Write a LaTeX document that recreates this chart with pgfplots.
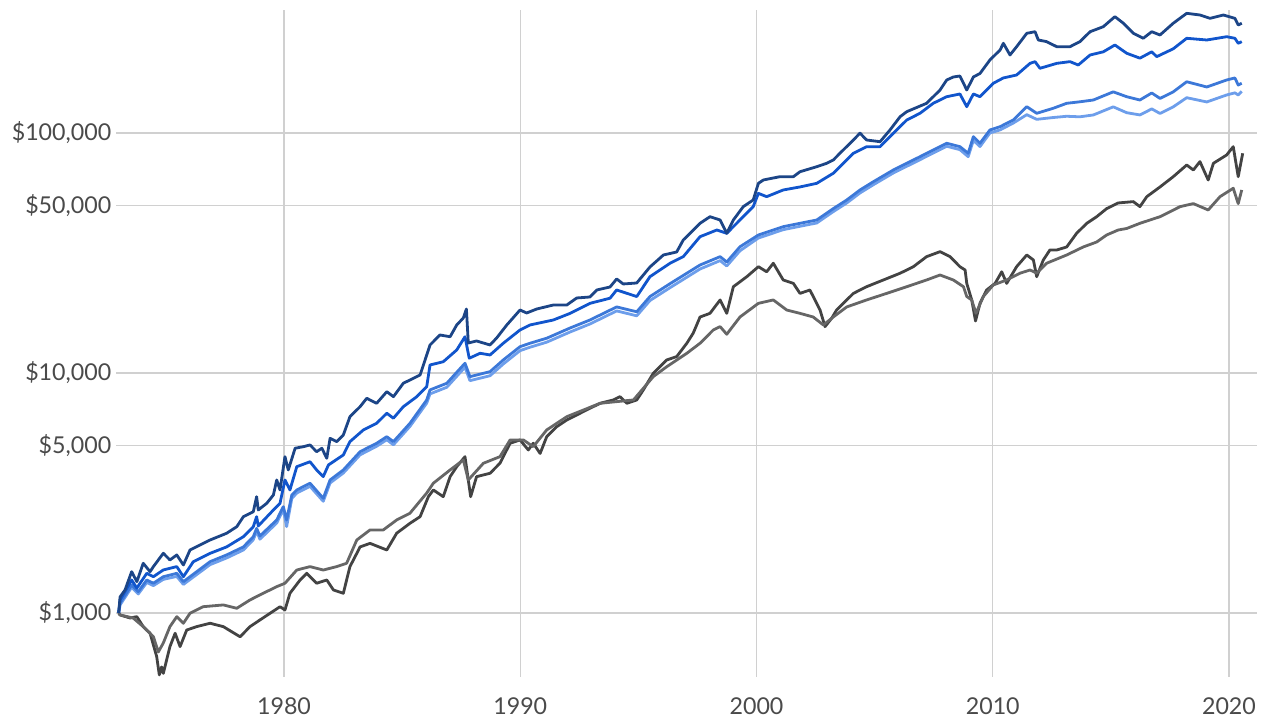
\documentclass[border=0pt]{standalone}
\usepackage{fontspec}
\setmainfont{Lato}
\usepackage{pgfplots}
\pgfplotsset{compat=1.18}
\definecolor{cA}{HTML}{1C4587}
\definecolor{cB}{HTML}{1155CC}
\definecolor{cC}{HTML}{3C78D8}
\definecolor{cD}{HTML}{6D9EEB}
\definecolor{cE}{HTML}{434343}
\definecolor{cF}{HTML}{666666}
\definecolor{gridc}{HTML}{D0D0D0}
\definecolor{labc}{HTML}{4A4A4A}
\begin{document}
\begin{tikzpicture}[x=1pt,y=1pt]
\path[use as bounding box] (0,0) rectangle (1270,721);
\begin{axis}[
  at={(116.3pt,44pt)}, anchor=south west,
  scale only axis, width=1141pt, height=667pt,
  xmin=1972.9, xmax=2021.2,
  ymode=log, ymin=541, ymax=325500,
  axis line style={draw=none},
  major tick length=0pt,
  xtick={1980,1990,2000,2010,2020},
  xticklabels={1980,1990,2000,2010,2020},
  ytick={1000,5000,10000,50000,100000},
  yticklabels={{\$1,000},{\$5,000},{\$10,000},{\$50,000},{\$100,000}},
  grid=major, major grid style={gridc, line width=1.3pt},
  tick label style={font=\fontsize{23.2}{27}\selectfont, text=labc},
  xticklabel style={yshift=-17pt},
  yticklabel style={xshift=-1.5pt},
  every axis plot/.append style={line width=2.8pt, line join=round, no markers},
]
% E dark gray
\addplot[cE] coordinates {
(1973.00,1000)(1973.06,981)(1973.48,953)(1973.77,965)(1974.04,877)(1974.33,823)(1974.61,658)(1974.72,552)(1974.82,596)(1974.89,560)(1975.17,724)(1975.39,823)(1975.60,724)(1975.88,849)(1976.30,877)(1976.87,906)(1977.43,877)(1978.14,796)(1978.56,877)(1978.98,935)(1979.41,997)(1979.83,1062)(1980.04,1029)(1980.25,1208)(1980.68,1372)(1980.96,1463)(1981.38,1330)(1981.81,1372)(1982.09,1247)(1982.51,1208)(1982.79,1560)(1983.22,1885)(1983.64,1950)(1984.35,1830)(1984.77,2150)(1985.33,2363)(1985.76,2519)(1986.11,3052)(1986.32,3255)(1986.74,3052)(1987.03,3698)(1987.31,4069)(1987.66,4480)(1987.90,3052)(1988.15,3698)(1988.72,3820)(1989.14,4206)(1989.57,5095)(1989.99,5260)(1990.34,4778)(1990.55,5095)(1990.84,4620)(1991.12,5428)(1991.54,5968)(1991.97,6370)(1992.25,6576)(1992.81,7015)(1993.38,7477)(1993.94,7720)(1994.22,7966)(1994.51,7477)(1994.93,7720)(1995.21,8500)(1995.63,9970)(1996.20,11329)(1996.62,11700)(1997.05,13300)(1997.32,14650)(1997.61,17110)(1998.03,17720)(1998.46,20150)(1998.74,17720)(1999.02,22880)(1999.59,25190)(2000.08,27730)(2000.43,26400)(2000.71,28660)(2001.13,24410)(2001.56,23620)(2001.84,21460)(2002.26,22170)(2002.69,18300)(2002.90,15600)(2003.18,16900)(2003.39,18300)(2004.10,21460)(2004.66,22880)(2005.37,24410)(2006.08,26040)(2006.64,27730)(2007.20,30530)(2007.77,32030)(2008.19,30530)(2008.61,27730)(2008.83,26860)(2008.90,23620)(2009.11,20150)(2009.27,16470)(2009.46,19510)(2009.74,22170)(2010.10,23620)(2010.38,26400)(2010.59,23620)(2011.01,27730)(2011.44,31020)(2011.72,29570)(2011.86,25190)(2012.14,29570)(2012.42,32550)(2012.71,32550)(2013.13,33500)(2013.55,38200)(2013.98,42040)(2014.40,44790)(2014.82,48400)(2015.31,51100)(2015.95,51760)(2016.23,49330)(2016.52,54280)(2017.08,59590)(2017.64,65750)(2018.21,73560)(2018.49,70120)(2018.77,75980)(2019.12,63700)(2019.34,74770)(2019.90,80970)(2020.18,87700)(2020.39,65750)(2020.58,82300)
};
% F medium gray
\addplot[cF] coordinates {
(1973.00,1000)(1973.06,981)(1973.61,953)(1974.04,877)(1974.47,796)(1974.68,688)(1974.89,750)(1975.17,877)(1975.46,965)(1975.74,906)(1976.02,997)(1976.58,1062)(1977.43,1080)(1978.00,1046)(1978.56,1133)(1979.12,1208)(1979.69,1287)(1980.04,1330)(1980.54,1510)(1981.10,1560)(1981.66,1510)(1982.23,1560)(1982.65,1611)(1983.08,2014)(1983.64,2218)(1984.20,2218)(1984.77,2441)(1985.33,2604)(1986.04,3160)(1986.32,3473)(1987.03,3944)(1987.59,4340)(1987.80,3583)(1988.44,4206)(1989.14,4480)(1989.57,5260)(1990.13,5260)(1990.55,4931)(1991.12,5790)(1991.97,6576)(1993.38,7477)(1994.79,7720)(1995.63,9655)(1996.20,10620)(1997.05,12080)(1997.61,13300)(1998.17,15107)(1998.46,15600)(1998.74,14500)(1999.30,17110)(2000.08,19510)(2000.71,20150)(2001.28,18300)(2001.84,17720)(2002.40,17110)(2002.83,15849)(2003.25,17110)(2003.82,18850)(2004.66,20150)(2005.51,21460)(2006.36,22880)(2007.20,24410)(2007.77,25600)(2008.33,24410)(2008.76,22880)(2008.90,20820)(2009.11,20150)(2009.29,17720)(2009.60,20820)(2010.02,23260)(2010.59,24410)(2011.15,26040)(2011.58,26860)(2011.86,26040)(2012.28,28660)(2013.13,31020)(2013.83,33500)(2014.40,35140)(2014.82,37580)(2015.31,39430)(2015.67,40000)(2016.23,42040)(2017.08,44790)(2017.93,49330)(2018.49,50780)(2019.12,47770)(2019.62,54280)(2020.18,58840)(2020.39,50780)(2020.54,57880)
};
% D lightest blue
\addplot[cD] coordinates {
(1973.00,1000)(1973.06,1080)(1973.55,1280)(1973.83,1200)(1974.19,1340)(1974.47,1300)(1974.89,1380)(1975.46,1420)(1975.74,1315)(1976.87,1590)(1977.57,1695)(1978.28,1830)(1978.70,2020)(1978.84,2190)(1978.98,2030)(1979.69,2370)(1979.97,2700)(1980.11,2290)(1980.33,3000)(1980.54,3160)(1981.10,3370)(1981.66,2920)(1981.95,3480)(1982.51,3830)(1983.22,4560)(1983.92,4950)(1984.35,5270)(1984.63,5020)(1985.33,5990)(1986.04,7490)(1986.18,8180)(1986.89,8720)(1987.66,10570)(1987.87,9290)(1988.72,9740)(1989.28,10900)(1989.99,12390)(1990.41,12800)(1991.12,13440)(1992.11,14820)(1992.95,16000)(1994.08,18140)(1994.93,17310)(1995.49,20040)(1996.34,22670)(1997.61,27120)(1998.46,29390)(1998.74,27920)(1999.30,32300)(2000.08,36510)(2001.13,39550)(2001.84,40850)(2002.55,42170)(2003.25,47030)(2003.82,51090)(2004.38,56240)(2004.94,60820)(2005.79,68130)(2006.36,72650)(2006.92,77400)(2007.48,82540)(2008.05,88060)(2008.61,85210)(2008.96,79700)(2009.18,93200)(2009.46,87800)(2009.88,100000)(2010.31,103000)(2010.87,110000)(2011.44,119200)(2011.86,114000)(2012.56,116000)(2013.13,117400)(2013.69,116800)(2014.26,118900)(2015.10,128500)(2015.67,121500)(2016.23,118900)(2016.73,126000)(2017.08,120600)(2017.64,128500)(2018.21,140300)(2019.06,134700)(2019.90,144000)(2020.25,147000)(2020.39,144000)(2020.54,149000)
};
% C light blue
\addplot[cC] coordinates {
(1973.00,1000)(1973.06,1101)(1973.55,1308)(1973.83,1227)(1974.19,1372)(1974.47,1330)(1974.89,1416)(1975.46,1463)(1975.74,1350)(1976.87,1636)(1977.57,1745)(1978.28,1885)(1978.70,2079)(1978.84,2252)(1978.98,2093)(1979.69,2440)(1979.97,2773)(1980.11,2440)(1980.33,3102)(1980.54,3255)(1981.10,3473)(1981.66,3005)(1981.95,3583)(1982.51,3944)(1983.22,4699)(1983.92,5095)(1984.35,5428)(1984.63,5174)(1985.33,6170)(1986.04,7718)(1986.18,8500)(1986.89,9061)(1987.66,10980)(1987.87,9655)(1988.72,10125)(1989.28,11329)(1989.99,12870)(1990.41,13300)(1991.12,13960)(1992.11,15400)(1992.95,16627)(1994.08,18850)(1994.93,17990)(1995.49,20820)(1996.34,23560)(1997.61,28180)(1998.46,30530)(1998.74,29010)(1999.30,33570)(2000.08,37580)(2001.13,40710)(2001.84,42040)(2002.55,43400)(2003.25,48400)(2003.82,52580)(2004.38,57880)(2004.94,62600)(2005.79,70120)(2006.36,74770)(2006.92,79660)(2007.48,84950)(2008.05,90630)(2008.61,87700)(2008.96,82300)(2009.18,96550)(2009.46,90630)(2009.88,102920)(2010.31,106260)(2010.87,113290)(2011.44,128700)(2011.86,120800)(2012.56,126740)(2013.13,132960)(2013.69,134900)(2014.26,137250)(2015.10,148420)(2015.67,141640)(2016.23,137250)(2016.73,146830)(2017.08,139320)(2017.64,148420)(2018.21,163500)(2019.06,155500)(2019.90,166270)(2020.25,169600)(2020.39,158489)(2020.54,161100)
};
% B medium blue
\addplot[cB] coordinates {
(1973.00,1000)(1973.06,1133)(1973.55,1372)(1973.77,1270)(1974.19,1463)(1974.47,1416)(1974.89,1511)(1975.46,1560)(1975.74,1416)(1976.16,1636)(1976.87,1772)(1977.57,1885)(1978.28,2079)(1978.70,2288)(1978.84,2519)(1978.91,2304)(1979.55,2686)(1979.83,2865)(1980.04,3583)(1980.25,3255)(1980.54,4069)(1981.10,4268)(1981.38,3944)(1981.66,3700)(1981.88,4137)(1982.51,4553)(1982.79,5174)(1983.36,5790)(1983.92,6170)(1984.35,6796)(1984.63,6480)(1985.05,7238)(1985.62,7966)(1986.04,8770)(1986.18,10798)(1986.74,11140)(1987.31,12469)(1987.66,14160)(1987.84,11520)(1988.30,12080)(1988.72,11885)(1989.28,13300)(1989.99,15107)(1990.41,15849)(1991.40,16627)(1992.11,17720)(1992.95,19510)(1993.80,20490)(1994.08,22174)(1994.93,20820)(1995.49,25190)(1996.34,28660)(1996.90,30530)(1997.61,36980)(1998.32,39430)(1998.74,38200)(1999.30,43400)(1999.86,49330)(2000.08,56030)(2000.43,54280)(2001.13,57880)(2001.84,59590)(2002.55,61700)(2003.25,67950)(2003.53,72370)(2004.10,82300)(2004.66,87700)(2005.23,87700)(2005.65,96550)(2006.36,113290)(2006.92,120800)(2007.48,132960)(2008.05,141640)(2008.61,145400)(2008.90,128700)(2009.18,145400)(2009.46,141640)(2010.02,161100)(2010.45,169600)(2011.01,174450)(2011.58,195100)(2011.79,198300)(2012.00,186050)(2012.71,195100)(2013.27,198300)(2013.62,192010)(2014.12,211350)(2014.68,217900)(2015.17,232630)(2015.67,214900)(2016.23,205000)(2016.73,217900)(2016.94,208000)(2017.64,224300)(2018.21,248100)(2019.06,244060)(2019.90,251900)(2020.25,248100)(2020.39,236440)(2020.54,240230)
};
% A navy
\addplot[cA] coordinates {
(1973.00,1000)(1973.06,1166)(1973.27,1247)(1973.55,1486)(1973.77,1350)(1974.04,1611)(1974.33,1486)(1974.47,1560)(1974.89,1773)(1975.17,1663)(1975.46,1745)(1975.74,1585)(1976.02,1830)(1976.44,1920)(1976.87,2014)(1977.57,2148)(1978.00,2288)(1978.28,2519)(1978.70,2643)(1978.84,3052)(1978.91,2686)(1979.27,2865)(1979.55,3102)(1979.69,3583)(1979.83,3255)(1980.04,4480)(1980.18,3944)(1980.47,4857)(1980.82,4931)(1981.10,5012)(1981.38,4699)(1981.60,4857)(1981.81,4412)(1981.95,5345)(1982.23,5174)(1982.51,5516)(1982.79,6576)(1983.22,7238)(1983.50,7845)(1983.92,7477)(1984.35,8357)(1984.63,7966)(1985.05,9061)(1985.33,9350)(1985.76,9810)(1986.18,13081)(1986.60,14399)(1987.03,14160)(1987.31,15849)(1987.59,16949)(1987.72,18478)(1987.80,13335)(1988.15,13594)(1988.72,13081)(1989.00,13990)(1989.43,15849)(1989.99,18302)(1990.27,17783)(1990.70,18478)(1991.40,19201)(1991.97,19201)(1992.39,20536)(1992.95,20733)(1993.24,22174)(1993.80,22822)(1994.08,24642)(1994.36,23489)(1994.93,23714)(1995.49,27649)(1996.06,31022)(1996.62,31928)(1996.90,35825)(1997.61,42040)(1998.03,44790)(1998.46,43402)(1998.74,38200)(1999.02,43402)(1999.44,49330)(1999.86,52580)(2000.08,61700)(2000.29,63700)(2000.99,65750)(2001.56,65750)(2001.84,68960)(2002.55,72370)(2002.97,74770)(2003.25,77180)(2003.53,82300)(2004.10,93510)(2004.38,99830)(2004.66,93510)(2005.23,91980)(2005.65,102920)(2006.08,116970)(2006.36,122700)(2007.20,132960)(2007.77,151070)(2008.05,166270)(2008.33,171140)(2008.61,172790)(2008.90,151070)(2009.18,171140)(2009.46,177040)(2009.88,201450)(2010.31,221730)(2010.45,236440)(2010.73,211350)(2011.01,228860)(2011.44,260230)(2011.79,264250)(2011.93,244060)(2012.28,240230)(2012.71,228860)(2013.27,228860)(2013.69,240230)(2014.12,264250)(2014.68,277310)(2015.17,305320)(2015.53,286610)(2015.95,260230)(2016.37,248110)(2016.73,264250)(2017.08,256060)(2017.64,286610)(2018.21,315240)(2018.77,310220)(2019.20,300420)(2019.76,310220)(2020.25,300420)(2020.39,281840)(2020.54,286610)
};
\end{axis}
\end{tikzpicture}
\end{document}
